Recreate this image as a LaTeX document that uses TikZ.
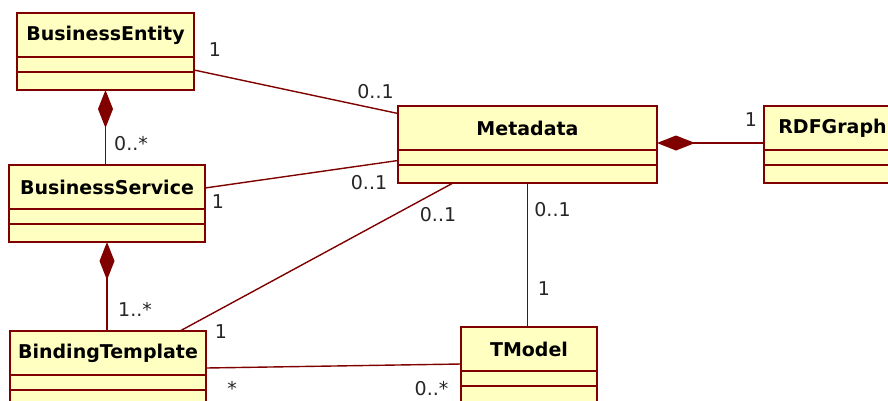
\documentclass[tikz,border=0pt]{standalone}
\usepackage{fontspec}
\setmainfont{DejaVu Sans}
\usetikzlibrary{arrows.meta}

\definecolor{umlline}{RGB}{128,0,0}
\definecolor{umlfill}{RGB}{255,255,193}

\tikzset{
  classbox/.style={draw=umlline, fill=umlfill, line width=1.4pt, rectangle,
    inner sep=0pt, outer sep=0pt, minimum height=77pt},
  classtitle/.style={inner sep=0pt, font=\fontsize{19pt}{22pt}\selectfont\bfseries},
  classline/.style={draw=umlline, line width=1.4pt},
  assoc/.style={draw=umlline, line width=1.4pt},
  compose/.style={assoc, {Diamond[length=38pt,width=15pt,fill=umlline]}-},
  mult/.style={anchor=base, inner sep=0pt, text=black!85,
    font=\fontsize{19pt}{22pt}\selectfont},
}

% name, left, top, width, title
\newcommand{\umlclass}[5]{%
  \node[classbox, minimum width=#4pt, anchor=north west] (#1) at (#2,#3) {};
  \node[classtitle] (#1-title) at ([yshift=-22pt]#1.north) {#5};
  \draw[classline] ([yshift=-44pt]#1.north west) -- ([yshift=-44pt]#1.north east);
  \draw[classline] ([yshift=-59pt]#1.north west) -- ([yshift=-59pt]#1.north east);
}

\begin{document}
\begin{tikzpicture}[x=1pt, y=-1pt]
  \useasboundingbox (0,0) rectangle (888,400);
  \fill[white] (0,0) rectangle (888,400);
  \clip (0,0) rectangle (888,400);

  % classes
  \umlclass{be}{17}{13}{177}{BusinessEntity}
  \umlclass{bs}{9}{165}{196}{BusinessService}
  \umlclass{bt}{10}{331}{196}{BindingTemplate}
  \umlclass{md}{398}{106}{259}{Metadata}
  \umlclass{rdf}{764}{106}{137}{RDFGraph}
  \umlclass{tm}{461}{327}{136}{TModel}

  % associations
  \draw[assoc] ([yshift=-18.5pt]be.east) -- ([yshift=31pt]md.west);
  \draw[assoc] ([yshift=15.5pt]bs.east) -- ([yshift=-16pt]md.west);
  \draw[assoc] ([xshift=72pt]bt.north) -- ([xshift=-74.5pt]md.south);
  \draw[assoc] ([yshift=-37pt]bt.north east) -- ([yshift=-37pt]tm.north west);
  \draw[assoc] (md.south) -- (md.south |- tm.north);

  % compositions
  \draw[compose] (be.south) -- (be.south |- bs.north);
  \draw[compose] (bs.south) -- (bs.south |- bt.north);
  \draw[compose] ([yshift=1.5pt]md.east) -- ([yshift=1.5pt]md.east -| rdf.west);

  % multiplicities
  \node[mult] (m1) at (215,56) {1};
  \node[mult] (m2) at (375.5,98) {0..1};
  \node[mult] (m3) at (131,150) {0..*};
  \node[mult] (m4) at (218,208) {1};
  \node[mult] (m5) at (369,189) {0..1};
  \node[mult] (m6) at (438,221.5) {0..1};
  \node[mult] (m7) at (135,316.5) {1..*};
  \node[mult] (m8) at (221,338) {1};
  \node[mult] (m9) at (232,395) {*};
  \node[mult] (m10) at (431.5,395) {0..*};
  \node[mult] (m11) at (552.5,216) {0..1};
  \node[mult] (m12) at (544,295) {1};
  \node[mult] (m13) at (751,126.5) {1};
\end{tikzpicture}
\end{document}
